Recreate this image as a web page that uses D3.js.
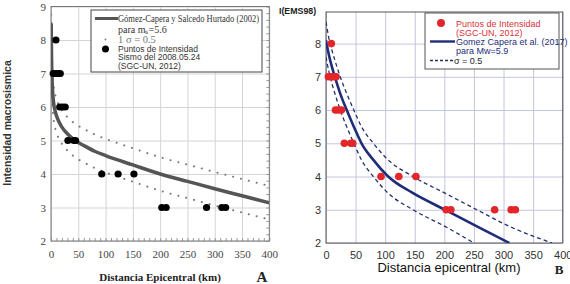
<!DOCTYPE html>
<html>
<head>
<meta charset="utf-8">
<script src="https://cdn.jsdelivr.net/npm/d3@7"></script>
<style>
  body { margin: 0; background: #fff; }
  svg { display: block; }
</style>
</head>
<body>
<script>
// intensity points (SGC-UN, 2012) - same in both panels
var pointDist = [9, 4, 9, 13, 17, 16, 21, 26, 31, 42, 45, 93, 123, 152, 203, 211, 285, 313, 320];
var pointInt  = [8, 7, 7, 7, 7, 6, 6, 6, 5, 5, 5, 4, 4, 4, 3, 3, 3, 3, 3];

// panel A : Gomez-Capera y Salcedo Hurtado (2002), ms=5.6
var gcshDist = [0.3, 1, 2, 3, 5, 8, 12, 20, 30, 44, 60, 80, 100, 150, 200, 250, 300, 350, 400];
var gcshInt  = [8.5, 7.5, 6.8, 6.45, 6.1, 5.85, 5.65, 5.4, 5.2, 5.0, 4.85, 4.68, 4.55, 4.27, 4.0, 3.78, 3.56, 3.35, 3.14];
var gcshUp   = [9.0, 8.0, 7.3, 6.95, 6.6, 6.35, 6.15, 5.9, 5.7, 5.5, 5.35, 5.18, 5.05, 4.77, 4.5, 4.28, 4.06, 3.85, 3.64];
var gcshLow  = [8.0, 7.0, 6.3, 5.95, 5.6, 5.35, 5.15, 4.9, 4.7, 4.5, 4.35, 4.18, 4.05, 3.77, 3.5, 3.28, 3.06, 2.85, 2.64];

// panel B : Gomez Capera et al. (2017), Mw=5.9
var gc17Dist    = [0, 5, 10, 15, 25, 35, 47, 60, 80, 105, 145, 201, 255, 310];
var gc17Int     = [8.1, 7.65, 7.3, 7.0, 6.45, 6.0, 5.5, 5.0, 4.5, 4.0, 3.52, 3.0, 2.5, 2.0];
var gc17UpDist  = [0, 5, 10, 15, 25, 35, 47, 60, 80, 105, 145, 201, 255, 310, 382];
var gc17Up      = [8.65, 8.15, 7.8, 7.5, 6.95, 6.5, 6.0, 5.5, 5.0, 4.5, 4.02, 3.5, 3.0, 2.5, 2.0];
var gc17LowDist = [0, 5, 10, 15, 25, 35, 47, 60, 80, 105, 145, 201, 250];
var gc17Low     = [7.6, 7.15, 6.8, 6.5, 5.95, 5.5, 5.0, 4.5, 4.0, 3.5, 3.02, 2.5, 2.0];

var xTicks = [0, 50, 100, 150, 200, 250, 300, 350, 400];
var yTicksA = [2, 3, 4, 5, 6, 7, 8, 9];
var yTicksB = [2, 3, 4, 5, 6, 7, 8];

function zip(xs, ys) { return xs.map(function(d, i) { return [d, ys[i]]; }); }
var fmt = d3.format("d");

var svg = d3.select("body").append("svg")
  .attr("width", 570)
  .attr("height", 284)
  .style("font-family", "'Liberation Sans', Arial, sans-serif");

// ---------------- panel A ----------------
var xA = d3.scaleLinear().domain([0, 400]).range([51, 269.3]);
var yA = d3.scaleLinear().domain([2, 9]).range([241, 6.5]);

var gA = svg.append("g");

// grid
gA.append("g")
  .attr("transform", "translate(0,241)")
  .call(d3.axisBottom(xA).tickValues(xTicks).tickSize(-234.5).tickFormat(""))
  .call(function(g) { g.select(".domain").remove(); g.selectAll("line").attr("stroke", "#d4d4d4"); });
gA.append("g")
  .attr("transform", "translate(51,0)")
  .call(d3.axisLeft(yA).tickValues(yTicksA).tickSize(-218.3).tickFormat(""))
  .call(function(g) { g.select(".domain").remove(); g.selectAll("line").attr("stroke", "#d4d4d4"); });

// minor ticks on the frame
gA.append("g").attr("transform", "translate(0,241)")
  .call(d3.axisBottom(xA).ticks(40).tickSize(-3).tickFormat(""))
  .call(function(g) { g.select(".domain").remove(); g.selectAll("line").attr("stroke", "#999"); });
gA.append("g").attr("transform", "translate(269.3,0)")
  .call(d3.axisRight(yA).ticks(35).tickSize(-3).tickFormat(""))
  .call(function(g) { g.select(".domain").remove(); g.selectAll("line").attr("stroke", "#999"); });

// tick labels
gA.append("g")
  .attr("transform", "translate(0,241)")
  .call(d3.axisBottom(xA).tickValues(xTicks).tickSize(0).tickPadding(9).tickFormat(fmt))
  .call(function(g) {
    g.select(".domain").remove();
    g.selectAll("text").attr("font-family", "'Liberation Serif', serif").attr("font-size", 11).attr("fill", "#444");
  });
gA.append("g")
  .attr("transform", "translate(51,0)")
  .call(d3.axisLeft(yA).tickValues(yTicksA).tickSize(0).tickPadding(5).tickFormat(fmt))
  .call(function(g) {
    g.select(".domain").remove();
    g.selectAll("text").attr("font-family", "'Liberation Serif', serif").attr("font-size", 11).attr("fill", "#444");
  });

gA.append("rect")
  .attr("x", 51).attr("y", 6.5).attr("width", 218.3).attr("height", 234.5)
  .attr("fill", "none").attr("stroke", "#777").attr("stroke-width", 1);

svg.append("clipPath").attr("id", "clipA").append("rect")
  .attr("x", 51).attr("y", 6.5).attr("width", 218.3).attr("height", 234.5);

var lineA = d3.line()
  .x(function(d) { return xA(d[0]); })
  .y(function(d) { return yA(d[1]); })
  .curve(d3.curveMonotoneX);

var curvesA = gA.append("g").attr("clip-path", "url(#clipA)");
[gcshUp, gcshLow].forEach(function(s) {
  curvesA.append("path")
    .datum(zip(gcshDist, s))
    .attr("d", lineA)
    .attr("fill", "none")
    .attr("stroke", "#7a7a7a")
    .attr("stroke-width", 2)
    .attr("stroke-linecap", "round")
    .attr("stroke-dasharray", "0.1,8");
});
curvesA.append("path")
  .datum(zip(gcshDist, gcshInt))
  .attr("d", lineA)
  .attr("fill", "none")
  .attr("stroke", "#555")
  .attr("stroke-width", 3.5);

gA.selectAll(".ptA")
  .data(zip(pointDist, pointInt))
  .enter().append("circle")
  .attr("class", "ptA")
  .attr("cx", function(d) { return xA(d[0]); })
  .attr("cy", function(d) { return yA(d[1]); })
  .attr("r", 3.6)
  .attr("fill", "#000");

// legend A
var legA = gA.append("g");
legA.append("rect")
  .attr("x", 91).attr("y", 10).attr("width", 171).attr("height", 62)
  .attr("fill", "#fff").attr("stroke", "#444").attr("stroke-width", 1);
legA.append("line")
  .attr("x1", 95).attr("x2", 118).attr("y1", 18.5).attr("y2", 18.5)
  .attr("stroke", "#555").attr("stroke-width", 3);
legA.append("text").attr("x", 118).attr("y", 22)
  .attr("font-family", "'Liberation Serif', serif").attr("font-size", 10).attr("fill", "#333")
  .attr("textLength", 141).attr("lengthAdjust", "spacingAndGlyphs")
  .text("Gómez-Capera y Salcedo Hurtado (2002)");
legA.append("text").attr("x", 118).attr("y", 32.5)
  .attr("font-family", "'Liberation Serif', serif").attr("font-size", 10).attr("fill", "#333")
  .text("para mₛ=5.6");
legA.append("circle").attr("cx", 105.5).attr("cy", 39.5).attr("r", 0.9).attr("fill", "#777");
legA.append("text").attr("x", 118).attr("y", 43)
  .attr("font-family", "'Liberation Serif', serif").attr("font-size", 10.5).attr("fill", "#777")
  .text("1 σ = 0.5");
legA.append("circle").attr("cx", 105.5).attr("cy", 49).attr("r", 3.5).attr("fill", "#000");
["Puntos de Intensidad", "Sismo del 2008.05.24", "(SGC-UN, 2012)"].forEach(function(t, i) {
  legA.append("text").attr("x", 118).attr("y", 51.5 + i * 8.5)
    .attr("font-size", 8.5).attr("fill", "#333").text(t);
});

gA.append("text")
  .attr("transform", "translate(11,123) rotate(-90)")
  .attr("text-anchor", "middle")
  .attr("font-size", 10.5).attr("font-weight", "bold").attr("fill", "#333")
  .text("Intensidad macrosismica");
gA.append("text")
  .attr("x", 160).attr("y", 281)
  .attr("text-anchor", "middle")
  .attr("font-family", "'Liberation Serif', serif")
  .attr("font-size", 11).attr("font-weight", "bold").attr("fill", "#222")
  .text("Distancia Epicentral (km)");
gA.append("text")
  .attr("x", 262).attr("y", 282)
  .attr("text-anchor", "middle")
  .attr("font-family", "'Liberation Serif', serif")
  .attr("font-size", 15).attr("font-weight", "bold").attr("fill", "#222")
  .text("A");

// ---------------- panel B ----------------
var xB = d3.scaleLinear().domain([0, 400]).range([326, 562.7]);
var yB = d3.scaleLinear().domain([2, 8.95]).range([243, 12]);

var gB = svg.append("g");

gB.append("g")
  .attr("transform", "translate(0,243)")
  .call(d3.axisBottom(xB).tickValues(xTicks).tickSize(-231).tickFormat(""))
  .call(function(g) { g.select(".domain").remove(); g.selectAll("line").attr("stroke", "#c3c6dc"); });
gB.append("g")
  .attr("transform", "translate(326,0)")
  .call(d3.axisLeft(yB).tickValues(yTicksB).tickSize(-236.7).tickFormat(""))
  .call(function(g) { g.select(".domain").remove(); g.selectAll("line").attr("stroke", "#c3c6dc"); });

gB.append("g")
  .attr("transform", "translate(0,243)")
  .call(d3.axisBottom(xB).tickValues(xTicks).tickSize(0).tickPadding(8).tickFormat(fmt))
  .call(function(g) {
    g.select(".domain").remove();
    g.selectAll("text").attr("font-size", 11).attr("fill", "#333");
  });
gB.append("g")
  .attr("transform", "translate(326,0)")
  .call(d3.axisLeft(yB).tickValues(yTicksB).tickSize(0).tickPadding(5).tickFormat(fmt))
  .call(function(g) {
    g.select(".domain").remove();
    g.selectAll("text").attr("font-size", 11).attr("fill", "#333");
  });

gB.append("rect")
  .attr("x", 326).attr("y", 12).attr("width", 236.7).attr("height", 231)
  .attr("fill", "none").attr("stroke", "#555").attr("stroke-width", 1);

svg.append("clipPath").attr("id", "clipB").append("rect")
  .attr("x", 326).attr("y", 12).attr("width", 236.7).attr("height", 231);

var lineB = d3.line()
  .x(function(d) { return xB(d[0]); })
  .y(function(d) { return yB(d[1]); })
  .curve(d3.curveMonotoneX);

var curvesB = gB.append("g").attr("clip-path", "url(#clipB)");
curvesB.append("path")
  .datum(zip(gc17UpDist, gc17Up))
  .attr("d", lineB)
  .attr("fill", "none").attr("stroke", "#25306a").attr("stroke-width", 1.3)
  .attr("stroke-dasharray", "4,3");
curvesB.append("path")
  .datum(zip(gc17LowDist, gc17Low))
  .attr("d", lineB)
  .attr("fill", "none").attr("stroke", "#25306a").attr("stroke-width", 1.3)
  .attr("stroke-dasharray", "4,3");
curvesB.append("path")
  .datum(zip(gc17Dist, gc17Int))
  .attr("d", lineB)
  .attr("fill", "none").attr("stroke", "#1f2d78").attr("stroke-width", 2.6);

gB.selectAll(".ptB")
  .data(zip(pointDist, pointInt))
  .enter().append("circle")
  .attr("class", "ptB")
  .attr("cx", function(d) { return xB(d[0]); })
  .attr("cy", function(d) { return yB(d[1]); })
  .attr("r", 3.8)
  .attr("fill", "#e3262a");

// legend B
var legB = gB.append("g");
legB.append("rect")
  .attr("x", 425).attr("y", 13).attr("width", 134).attr("height", 56)
  .attr("fill", "#fff").attr("stroke", "#555").attr("stroke-width", 1);
legB.append("circle").attr("cx", 441).attr("cy", 23).attr("r", 4).attr("fill", "#e3262a");
legB.append("text").attr("x", 456).attr("y", 26.5).attr("font-size", 9).attr("fill", "#d8323a").text("Puntos de Intensidad");
legB.append("text").attr("x", 456).attr("y", 35.5).attr("font-size", 9).attr("fill", "#d8323a").text("(SGC-UN, 2012)");
legB.append("line").attr("x1", 430).attr("x2", 455).attr("y1", 41.5).attr("y2", 41.5)
  .attr("stroke", "#1f2d78").attr("stroke-width", 2.4);
legB.append("text").attr("x", 456).attr("y", 45).attr("font-size", 9).attr("fill", "#1f2d78").text("Gomez Capera et al. (2017)");
legB.append("text").attr("x", 456).attr("y", 54).attr("font-size", 9).attr("fill", "#1f2d78").text("para Mw=5.9");
legB.append("line").attr("x1", 430).attr("x2", 453).attr("y1", 60.5).attr("y2", 60.5)
  .attr("stroke", "#25306a").attr("stroke-width", 1.3).attr("stroke-dasharray", "3,2");
legB.append("text").attr("x", 454).attr("y", 64).attr("font-size", 9).attr("fill", "#222").text("σ = 0.5");

gB.append("text")
  .attr("x", 279).attr("y", 14)
  .attr("font-size", 8.8).attr("font-weight", "bold").attr("fill", "#222")
  .text("I(EMS98)");
gB.append("text")
  .attr("x", 449).attr("y", 272)
  .attr("text-anchor", "middle")
  .attr("font-size", 13).attr("fill", "#111")
  .text("Distancia epicentral (km)");
gB.append("text")
  .attr("x", 559).attr("y", 274)
  .attr("text-anchor", "middle")
  .attr("font-family", "'Liberation Serif', serif")
  .attr("font-size", 13).attr("font-weight", "bold").attr("fill", "#222")
  .text("B");
</script>
</body>
</html>
